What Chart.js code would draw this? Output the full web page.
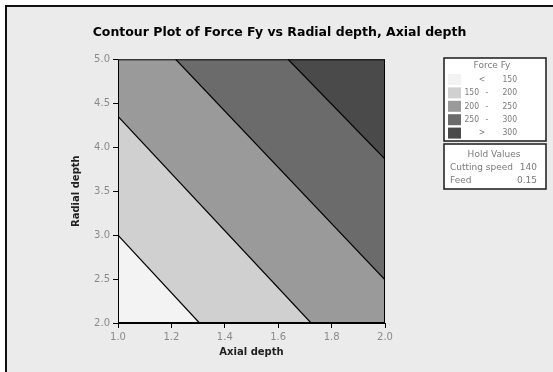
<!DOCTYPE html>
<html><head><meta charset="utf-8">
<script src="https://cdn.jsdelivr.net/npm/chart.js@4.4.1/dist/chart.umd.min.js"></script>
<style>html,body{margin:0;padding:0;background:#fff;} canvas{display:block}</style>
</head><body>
<canvas id="c" width="553" height="372"></canvas>
<script>
// ---- data ----
const xTicks = [1.0, 1.2, 1.4, 1.6, 1.8, 2.0];          // Axial depth
const yTicks = [2.0, 2.5, 3.0, 3.5, 4.0, 4.5, 5.0];     // Radial depth
const levelLabels = [['', '<', '150'], ['150', '-', '200'], ['200', '-', '250'], ['250', '-', '300'], ['', '>', '300']];
const levelColors = ['#f3f3f3', '#d0d0d0', '#9a9a9a', '#6b6b6b', '#4a4a4a'];
// contour lines (Axial depth, Radial depth) endpoints
const contour150 = [{x: 1.0, y: 3.0}, {x: 1.305, y: 2.0}];
const contour200 = [{x: 1.0, y: 4.35}, {x: 1.723, y: 2.0}];
const contour250 = [{x: 1.216, y: 5.0}, {x: 2.0, y: 2.49}];
const contour300 = [{x: 1.637, y: 5.0}, {x: 2.0, y: 3.864}];
const holdNames = ['Cutting speed', 'Feed'];
const holdValues = ['140', '0.15'];
const titleText = 'Contour Plot of Force Fy vs Radial depth, Axial depth';
const legendTitle = 'Force Fy';
const holdTitle = 'Hold Values';

const xMin = xTicks[0], xMax = xTicks[xTicks.length - 1];
const yMin = yTicks[0], yMax = yTicks[yTicks.length - 1];
const contours = [contour150, contour200, contour250, contour300];

// boundary spanning full x-range, region above it belongs to the higher band
function edge(c) {
  const pts = c.slice();
  if (pts[0].x > xMin) pts.unshift({x: xMin, y: pts[0].y});
  if (pts[pts.length - 1].x < xMax) pts.push({x: xMax, y: pts[pts.length - 1].y});
  return pts;
}

const datasets = [];
datasets.push({data: [{x: xMin, y: yMin}, {x: xMax, y: yMin}], backgroundColor: levelColors[0],
  borderColor: 'rgba(0,0,0,0)', borderWidth: 0, fill: 'end', order: 10});
contours.forEach((c, i) => datasets.push({data: edge(c), backgroundColor: levelColors[i + 1],
  borderColor: 'rgba(0,0,0,0)', borderWidth: 0, fill: 'end', order: 9 - i}));
contours.forEach(c => datasets.push({data: c, borderColor: '#000', borderWidth: 1.2, fill: false, order: 0}));

const FONT = 'DejaVu Sans';
const NARROW = 'DejaVu Sans Condensed, DejaVu Sans';
Chart.defaults.font.family = FONT;

const bgPlugin = {
  id: 'bg',
  beforeDraw(chart) {
    const ctx = chart.ctx;
    ctx.save();
    ctx.fillStyle = '#ffffff';
    ctx.fillRect(0, 0, chart.width, chart.height);
    ctx.fillStyle = '#ebebeb';
    ctx.fillRect(6, 6, chart.width, chart.height);
    ctx.strokeStyle = '#111';
    ctx.lineWidth = 2;
    ctx.beginPath();
    ctx.moveTo(6, chart.height); ctx.lineTo(6, 6); ctx.lineTo(chart.width, 6);
    ctx.stroke();
    ctx.restore();
  },
  afterDatasetsDraw(chart) {
    const {ctx, chartArea: a} = chart;
    ctx.save();
    ctx.strokeStyle = '#000';
    ctx.lineWidth = 1;
    ctx.strokeRect(a.left + 0.5, a.top + 0.5, a.right - a.left - 1, a.bottom - a.top - 1);
    ctx.restore();
  },
  afterDraw(chart) {
    const ctx = chart.ctx;
    ctx.save();
    // legend box
    ctx.fillStyle = '#fff';
    ctx.fillRect(444, 58, 102, 83);
    ctx.strokeStyle = '#1a1a1a';
    ctx.lineWidth = 1.5;
    ctx.strokeRect(444, 58, 102, 83);
    ctx.font = '9px ' + FONT;
    ctx.fillStyle = '#7a7a7a';
    ctx.textBaseline = 'middle';
    ctx.textAlign = 'center';
    ctx.fillText(legendTitle, 492, 66);
    ctx.font = '8.5px ' + NARROW;
    levelLabels.forEach((lab, i) => {
      const cy = 79.5 + i * 13.4;
      ctx.fillStyle = levelColors[i];
      ctx.fillRect(448, cy - 5.5, 13, 11);
      ctx.fillStyle = '#7a7a7a';
      ctx.textAlign = 'right';
      if (lab[0]) ctx.fillText(lab[0], 479, cy);
      ctx.textAlign = 'center';
      ctx.fillText(lab[1], lab[0] ? 487 : 482, cy);
      ctx.textAlign = 'right';
      ctx.fillText(lab[2], 517, cy);
    });
    // hold values box
    ctx.font = '9px ' + FONT;
    ctx.fillStyle = '#fff';
    ctx.fillRect(444, 144, 102, 45);
    ctx.strokeStyle = '#1a1a1a';
    ctx.strokeRect(444, 144, 102, 45);
    ctx.fillStyle = '#7a7a7a';
    ctx.textAlign = 'center';
    ctx.fillText(holdTitle, 494, 155);
    holdNames.forEach((n, i) => {
      const cy = 167.7 + i * 13;
      ctx.textAlign = 'left';
      ctx.fillText(n, 450, cy);
      ctx.textAlign = 'right';
      ctx.fillText(holdValues[i], 537, cy);
    });
    ctx.restore();
  }
};

new Chart(document.getElementById('c'), {
  type: 'line',
  data: {datasets},
  plugins: [bgPlugin],
  options: {
    responsive: false,
    animation: false,
    devicePixelRatio: 1,
    layout: {padding: {left: 6, right: 0, top: 0, bottom: 0}},
    elements: {point: {radius: 0, hoverRadius: 0}, line: {tension: 0}},
    plugins: {
      legend: {display: false},
      tooltip: {enabled: false},
      title: {
        display: true, text: titleText, color: '#000',
        font: {family: FONT, size: 12.5, weight: 'bold'},
        padding: {top: 24.8, bottom: 19.5}
      }
    },
    scales: {
      x: {
        type: 'linear', min: xMin, max: xMax,
        afterBuildTicks: s => { s.ticks = xTicks.map(v => ({value: v})); },
        afterFit: s => { s.height = 49; },
        ticks: {callback: v => v.toFixed(1), color: '#8a8a8a', font: {size: 10}, padding: 3, maxRotation: 0},
        grid: {drawOnChartArea: false, drawTicks: true, tickLength: 5, color: '#000'},
        border: {display: true, color: '#000'},
        title: {display: true, text: 'Axial depth', color: '#222', font: {size: 10, weight: 'bold'}, padding: {top: 0, bottom: 13.5}}
      },
      y: {
        type: 'linear', min: yMin, max: yMax,
        afterBuildTicks: s => { s.ticks = yTicks.map(v => ({value: v})); },
        afterFit: s => { s.width = 112; },
        ticks: {callback: v => v.toFixed(1), color: '#8a8a8a', font: {size: 10}, padding: 3},
        grid: {drawOnChartArea: false, drawTicks: true, tickLength: 5, color: '#000'},
        border: {display: true, color: '#000'},
        title: {display: true, text: 'Radial depth', color: '#222', font: {size: 10, weight: 'bold'}, padding: {top: 64, bottom: 0}}
      },
      y2: {
        type: 'linear', position: 'right', display: true,
        afterFit: s => { s.width = 168; },
        ticks: {display: false}, grid: {display: false}, border: {display: false}
      }
    }
  }
});
</script>
</body></html>
